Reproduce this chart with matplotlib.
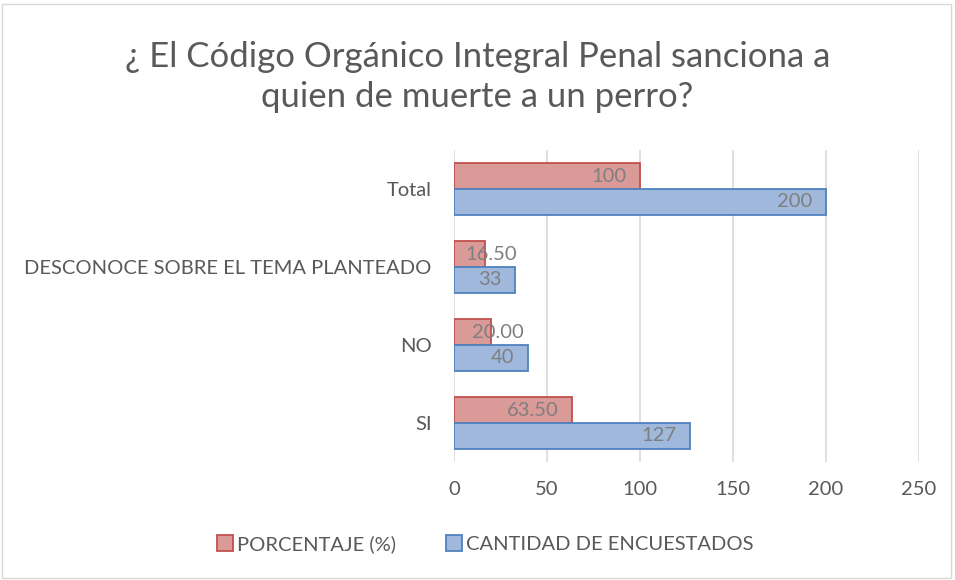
import matplotlib.pyplot as plt
import matplotlib.patches as patches
import numpy as np

# Data
categories = ["SI", "NO", "DESCONOCE SOBRE EL TEMA PLANTEADO", "Total"]
porcentaje = [63.50, 20.00, 16.50, 100]
cantidad = [127, 40, 33, 200]
porcentaje_labels = ["63.50", "20.00", "16.50", "100"]
cantidad_labels = ["127", "40", "33", "200"]

plt.rcParams['font.family'] = ['Lato', 'DejaVu Sans']

text_gray = '#595959'
label_gray = '#7f7f7f'
red_fill, red_edge = '#da9a98', '#c0504d'
blue_fill, blue_edge = '#a0b8dc', '#4f81bd'

fig = plt.figure(figsize=(9.55, 5.8), dpi=100)
ax = fig.add_axes([0.4754, 0.2034, 0.4869, 0.538])

# Outer chart border
fig.patches.append(patches.Rectangle((0.002, 0.003), 0.994, 0.99, transform=fig.transFigure,
                                     fill=False, edgecolor='#d9d9d9', linewidth=1))

y = np.arange(len(categories))
h = 0.33
bars_p = ax.barh(y + h / 2, porcentaje, height=h, color=red_fill, edgecolor=red_edge,
                 linewidth=1.3, label="PORCENTAJE (%)", zorder=3)
bars_c = ax.barh(y - h / 2, cantidad, height=h, color=blue_fill, edgecolor=blue_edge,
                 linewidth=1.3, label="CANTIDAD DE ENCUESTADOS", zorder=3)

ax.set_xlim(0, 250)
ax.set_ylim(-0.5, 3.5)
ax.set_xticks(np.arange(0, 251, 50))
ax.set_yticks(y)
ax.set_yticklabels(categories)
ax.tick_params(axis='both', length=0, labelsize=14.5, colors=text_gray)
ax.tick_params(axis='x', pad=14)
ax.tick_params(axis='y', pad=16)
ax.grid(axis='x', color='#d9d9d9', linewidth=1.2, zorder=0)
for s in ax.spines.values():
    s.set_visible(False)


# Data labels: inside end, spill over when the bar is too short
def add_labels(bars, labels):
    for bar, lab in zip(bars, labels):
        end = bar.get_width()
        yc = bar.get_y() + bar.get_height() / 2
        if end < 30:
            ax.annotate(lab, (end, yc), xytext=(5, 0), textcoords='offset points',
                        ha='center', va='center', fontsize=14.5, color=label_gray, zorder=4)
        else:
            ax.annotate(lab, (end, yc), xytext=(-10, 0), textcoords='offset points',
                        ha='right', va='center', fontsize=14.5, color=label_gray, zorder=4)


add_labels(bars_p, porcentaje_labels)
add_labels(bars_c, cantidad_labels)

fig.text(0.5, 0.867, "¿ El Código Orgánico Integral Penal sanciona a\nquien de muerte a un perro?",
         ha='center', va='center', fontsize=25, color=text_gray, linespacing=1.3)

fig.legend(handles=[bars_p, bars_c], loc='center', bbox_to_anchor=(0.508, 0.062), ncol=2,
           frameon=False, fontsize=14.5, labelcolor=text_gray, handlelength=0.8,
           handleheight=0.8, handletextpad=0.2, columnspacing=2.5)

fig.savefig("out.png", dpi=100)
